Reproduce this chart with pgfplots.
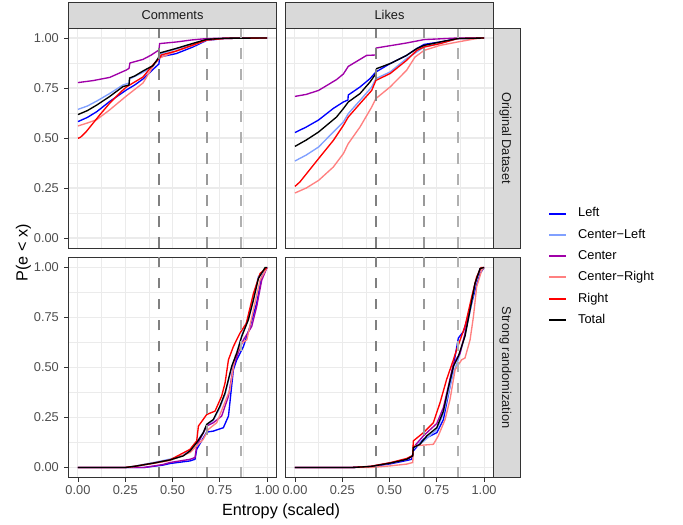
\documentclass[border=0pt]{standalone}
\usepackage{fontspec}
\setmainfont{Liberation Sans}
\usepackage{pgfplots}
\pgfplotsset{compat=1.18}
\definecolor{g20}{HTML}{333333}
\definecolor{g30}{HTML}{4D4D4D}
\definecolor{g10}{HTML}{1A1A1A}
\definecolor{g85}{HTML}{D9D9D9}
\definecolor{g92}{HTML}{EBEBEB}
\definecolor{cL}{HTML}{0000FF}
\definecolor{cCL}{HTML}{80A0FF}
\definecolor{cC}{HTML}{A000A8}
\definecolor{cCR}{HTML}{FF8080}
\definecolor{cR}{HTML}{FF0000}
\definecolor{cT}{HTML}{000000}
\definecolor{vg1}{HTML}{808080}
\definecolor{vg2}{HTML}{999999}
\definecolor{vg3}{HTML}{B0B0B0}
\newcommand{\tickfont}{\fontsize{12.8bp}{14bp}\selectfont}
\newcommand{\titlefont}{\fontsize{16.2bp}{18bp}\selectfont}
\pgfplotsset{
  panel/.style={
    scale only axis, width=208bp, height=220bp, anchor=south west,
    xmin=-0.05, xmax=1.05, ymin=-0.05, ymax=1.05,
    xtick={0,0.25,0.5,0.75,1}, ytick={0,0.25,0.5,0.75,1},
    minor xtick={0.125,0.375,0.625,0.875}, minor ytick={0.125,0.375,0.625,0.875},
    grid=both,
    major grid style={draw=g92, line width=1.07bp},
    minor grid style={draw=g92, line width=0.53bp},
    axis line style={draw=g20, line width=0.9bp},
    tick align=outside, major tick length=4bp, minor tick length=0pt,
    tick style={draw=g20, line width=0.9bp},
    xtick pos=bottom, ytick pos=left,
    tick label style={font=\tickfont, text=g30, inner sep=0pt},
    xticklabel shift=3.5bp, yticklabel shift=5.5bp,
    xticklabel={\pgfmathprintnumber[fixed,fixed zerofill,precision=2,assume math mode=true]{\tick}},
    yticklabel={\pgfmathprintnumber[fixed,fixed zerofill,precision=2,assume math mode=true]{\tick}},
    every axis plot/.append style={line width=1.35bp},
  },
  nox/.style={xticklabels={}, xtick style={draw=none}},
  noy/.style={yticklabels={}, ytick style={draw=none}},
  vl/.style={dash pattern=on 10.5bp off 10.5bp, line width=2.3bp, forget plot},
}
\newcommand{\vlines}{%
  \addplot[vl, draw=vg1] coordinates {(0.43,-0.05) (0.43,1.05)};
  \addplot[vl, draw=vg2] coordinates {(0.683,-0.05) (0.683,1.05)};
  \addplot[vl, draw=vg3] coordinates {(0.862,-0.05) (0.862,1.05)};
}
\begin{document}
\begin{tikzpicture}
\useasboundingbox (0,0) rectangle (683bp,525bp);
% ---------------- top left: Comments / Original
\begin{axis}[panel, nox, at={(68.5bp,277bp)}]
\addplot[color=cL] coordinates {(0,0.582) (0.05,0.603) (0.1,0.632) (0.167,0.682) (0.256,0.74) (0.3,0.765) (0.344,0.795) (0.405,0.85) (0.428,0.87) (0.432,0.905) (0.52,0.922) (0.608,0.955) (0.68,0.988) (0.78,0.998) (1,1)};
\addplot[color=cCL] coordinates {(0,0.643) (0.05,0.66) (0.1,0.685) (0.167,0.722) (0.238,0.765) (0.27,0.775) (0.273,0.795) (0.344,0.828) (0.397,0.858) (0.425,0.895) (0.432,0.92) (0.52,0.945) (0.608,0.97) (0.68,0.99) (0.78,0.998) (1,1)};
\addplot[color=cC] coordinates {(0,0.777) (0.08,0.787) (0.168,0.803) (0.256,0.84) (0.27,0.848) (0.275,0.875) (0.344,0.893) (0.388,0.915) (0.428,0.94) (0.432,0.972) (0.52,0.98) (0.6,0.99) (0.68,0.997) (0.8,1) (1,1)};
\addplot[color=cCR] coordinates {(0,0.56) (0.05,0.575) (0.1,0.592) (0.167,0.64) (0.256,0.71) (0.344,0.775) (0.405,0.87) (0.432,0.9) (0.52,0.935) (0.608,0.962) (0.68,0.99) (0.78,0.998) (1,1)};
\addplot[color=cR] coordinates {(0,0.498) (0.015,0.505) (0.044,0.532) (0.115,0.615) (0.167,0.673) (0.229,0.732) (0.256,0.755) (0.344,0.805) (0.405,0.875) (0.432,0.9) (0.44,0.915) (0.52,0.935) (0.608,0.965) (0.68,0.99) (0.78,0.998) (1,1)};
\addplot[color=cT] coordinates {(0,0.617) (0.05,0.637) (0.1,0.665) (0.167,0.707) (0.238,0.757) (0.27,0.765) (0.273,0.8) (0.3,0.81) (0.344,0.835) (0.397,0.862) (0.425,0.9) (0.432,0.925) (0.52,0.948) (0.608,0.973) (0.68,0.993) (0.78,0.999) (1,1)};
\vlines
\end{axis}
% ---------------- top right: Likes / Original
\begin{axis}[panel, nox, noy, at={(285.5bp,277bp)},
  legend style={at={(axis description cs:1.262,-0.0854)}, anchor=west, draw=none, fill=none,
    inner sep=0pt, row sep=9.4bp, font=\tickfont,
    nodes={inner sep=0pt, text height=9.4bp, text depth=2.5bp},
    /tikz/every odd column/.append style={column sep=11bp}},
  legend cell align=left,
  legend image code/.code={\draw[#1, line width=2bp] (0bp,0bp) -- (17bp,0bp);}]
\addplot[color=cL] coordinates {(0,0.527) (0.06,0.555) (0.125,0.59) (0.203,0.648) (0.256,0.68) (0.28,0.69) (0.282,0.715) (0.344,0.755) (0.397,0.797) (0.428,0.83) (0.503,0.872) (0.59,0.913) (0.644,0.947) (0.683,0.968) (0.767,0.98) (0.86,0.997) (1,1)};
\addlegendentry{Left}
\addplot[color=cCL] coordinates {(0,0.385) (0.06,0.415) (0.125,0.455) (0.203,0.53) (0.256,0.58) (0.282,0.622) (0.344,0.688) (0.406,0.755) (0.428,0.797) (0.503,0.83) (0.59,0.897) (0.644,0.93) (0.683,0.955) (0.767,0.972) (0.86,0.997) (1,1)};
\addlegendentry{Center−Left}
\addplot[color=cC] coordinates {(0,0.708) (0.06,0.718) (0.125,0.738) (0.22,0.792) (0.256,0.82) (0.282,0.858) (0.379,0.913) (0.428,0.915) (0.43,0.95) (0.59,0.975) (0.683,0.992) (0.86,1) (1,1)};
\addlegendentry{Center}
\addplot[color=cCR] coordinates {(0,0.225) (0.06,0.25) (0.125,0.288) (0.203,0.355) (0.256,0.422) (0.282,0.472) (0.344,0.555) (0.406,0.655) (0.428,0.697) (0.503,0.755) (0.59,0.838) (0.635,0.905) (0.683,0.938) (0.767,0.963) (0.86,0.98) (0.96,0.997) (1,1)};
\addlegendentry{Center−Right}
\addplot[color=cR] coordinates {(0,0.258) (0.026,0.28) (0.125,0.397) (0.203,0.488) (0.256,0.563) (0.282,0.605) (0.344,0.672) (0.406,0.738) (0.428,0.788) (0.503,0.822) (0.59,0.888) (0.644,0.938) (0.683,0.955) (0.767,0.972) (0.86,0.997) (1,1)};
\addlegendentry{Right}
\addplot[color=cT] coordinates {(0,0.458) (0.06,0.49) (0.125,0.53) (0.22,0.605) (0.256,0.647) (0.282,0.68) (0.344,0.722) (0.397,0.78) (0.428,0.822) (0.432,0.847) (0.503,0.872) (0.59,0.913) (0.644,0.947) (0.683,0.963) (0.767,0.98) (0.86,0.997) (1,1)};
\addlegendentry{Total}
\vlines
\end{axis}
% ---------------- bottom left: Comments / Strong randomization
\begin{axis}[panel, at={(68.5bp,47.5bp)}]
\addplot[color=cL] coordinates {(0,0) (0.35,0) (0.45,0.012) (0.487,0.02) (0.593,0.033) (0.619,0.041) (0.628,0.091) (0.681,0.177) (0.716,0.182) (0.769,0.199) (0.796,0.257) (0.822,0.489) (0.84,0.539) (0.875,0.605) (0.91,0.705) (0.945,0.821) (0.972,0.954) (1,1)};
\addplot[color=cCL] coordinates {(0,0) (0.25,0) (0.3,0.007) (0.4,0.025) (0.487,0.042) (0.557,0.062) (0.593,0.088) (0.628,0.128) (0.663,0.176) (0.681,0.21) (0.716,0.236) (0.751,0.3) (0.778,0.365) (0.813,0.5) (0.84,0.575) (0.866,0.66) (0.901,0.75) (0.928,0.85) (0.954,0.955) (1,1)};
\addplot[color=cC] coordinates {(0,0) (0.35,0) (0.45,0.015) (0.487,0.025) (0.593,0.041) (0.619,0.05) (0.628,0.108) (0.681,0.207) (0.716,0.224) (0.76,0.257) (0.796,0.357) (0.822,0.506) (0.85,0.58) (0.875,0.638) (0.919,0.705) (0.945,0.804) (0.972,0.937) (1,1)};
\addplot[color=cCR] coordinates {(0,0) (0.25,0) (0.3,0.005) (0.4,0.02) (0.487,0.035) (0.593,0.075) (0.628,0.108) (0.663,0.141) (0.69,0.191) (0.734,0.224) (0.769,0.307) (0.804,0.39) (0.831,0.556) (0.866,0.622) (0.893,0.638) (0.928,0.788) (0.963,0.937) (1,1)};
\addplot[color=cR] coordinates {(0,0) (0.25,0) (0.3,0.006) (0.4,0.022) (0.487,0.038) (0.593,0.091) (0.628,0.133) (0.637,0.207) (0.681,0.265) (0.725,0.282) (0.76,0.357) (0.778,0.423) (0.796,0.539) (0.822,0.605) (0.857,0.672) (0.89,0.72) (0.928,0.87) (0.963,0.97) (1,1)};
\addplot[color=cT] coordinates {(0,0) (0.25,0) (0.3,0.006) (0.4,0.022) (0.487,0.038) (0.557,0.058) (0.593,0.083) (0.628,0.124) (0.663,0.174) (0.681,0.216) (0.716,0.24) (0.751,0.307) (0.778,0.373) (0.813,0.506) (0.84,0.572) (0.866,0.655) (0.901,0.738) (0.928,0.837) (0.954,0.945) (0.99,1) (1,1)};
\vlines
\end{axis}
% ---------------- bottom right: Likes / Strong randomization
\begin{axis}[panel, noy, at={(285.5bp,47.5bp)}]
\addplot[color=cL] coordinates {(0,0) (0.3,0) (0.4,0.004) (0.503,0.018) (0.591,0.035) (0.617,0.041) (0.626,0.083) (0.679,0.141) (0.75,0.174) (0.785,0.24) (0.82,0.406) (0.847,0.556) (0.864,0.647) (0.891,0.68) (0.926,0.788) (0.952,0.887) (0.979,0.97) (1,1)};
\addplot[color=cCL] coordinates {(0,0) (0.3,0) (0.4,0.005) (0.503,0.022) (0.591,0.041) (0.623,0.058) (0.626,0.095) (0.679,0.13) (0.75,0.19) (0.785,0.27) (0.811,0.37) (0.838,0.473) (0.864,0.54) (0.899,0.66) (0.926,0.78) (0.952,0.91) (0.979,0.99) (1,1)};
\addplot[color=cC] coordinates {(0,0) (0.3,0) (0.4,0.005) (0.503,0.022) (0.591,0.041) (0.623,0.058) (0.626,0.1) (0.679,0.158) (0.75,0.22) (0.785,0.3) (0.811,0.405) (0.838,0.52) (0.873,0.57) (0.899,0.67) (0.926,0.8) (0.952,0.92) (0.979,0.995) (1,1)};
\addplot[color=cCR] coordinates {(0,0) (0.4,0) (0.503,0.008) (0.591,0.017) (0.623,0.025) (0.626,0.108) (0.732,0.116) (0.758,0.158) (0.794,0.24) (0.82,0.34) (0.847,0.489) (0.882,0.539) (0.899,0.547) (0.926,0.638) (0.944,0.755) (0.961,0.904) (0.988,0.987) (1,1)};
\addplot[color=cR] coordinates {(0,0) (0.3,0) (0.4,0.006) (0.503,0.024) (0.591,0.045) (0.623,0.06) (0.626,0.133) (0.679,0.174) (0.732,0.224) (0.767,0.323) (0.802,0.44) (0.838,0.539) (0.855,0.589) (0.899,0.705) (0.935,0.854) (0.961,0.954) (0.985,1) (1,1)};
\addplot[color=cT] coordinates {(0,0) (0.3,0) (0.4,0.005) (0.503,0.022) (0.556,0.033) (0.591,0.041) (0.623,0.058) (0.626,0.1) (0.661,0.116) (0.697,0.158) (0.75,0.199) (0.785,0.282) (0.811,0.398) (0.838,0.506) (0.864,0.556) (0.899,0.655) (0.926,0.788) (0.952,0.92) (0.979,0.995) (1,1)};
\vlines
\end{axis}
% ---------------- strips
\draw[fill=g85, draw=g20, line width=0.9bp] (68.5bp,497bp) rectangle (276.5bp,523bp);
\draw[fill=g85, draw=g20, line width=0.9bp] (285.5bp,497bp) rectangle (493.5bp,523bp);
\draw[fill=g85, draw=g20, line width=0.9bp] (493.5bp,277bp) rectangle (520bp,497bp);
\draw[fill=g85, draw=g20, line width=0.9bp] (493.5bp,47.5bp) rectangle (520bp,267.5bp);
\node[font=\tickfont, text=g10, inner sep=0pt, text height=9.3bp, text depth=0pt] at (172.5bp,510bp) {Comments};
\node[font=\tickfont, text=g10, inner sep=0pt, text height=9.3bp, text depth=0pt] at (389.5bp,510bp) {Likes};
\node[font=\tickfont, text=g10, inner sep=0pt, text height=9.3bp, text depth=0pt, rotate=-90] at (506.75bp,387bp) {Original Dataset};
\node[font=\tickfont, text=g10, inner sep=0pt, text height=9.3bp, text depth=0pt, rotate=-90] at (506.75bp,157.5bp) {Strong randomization};
% ---------------- axis titles
\node[font=\titlefont, anchor=base, inner sep=0pt] at (281bp,9.2bp) {Entropy (scaled)};
\node[font=\titlefont, anchor=base, inner sep=0pt, rotate=90] at (27.5bp,272bp) {P(e < x)};
\end{tikzpicture}
\end{document}
